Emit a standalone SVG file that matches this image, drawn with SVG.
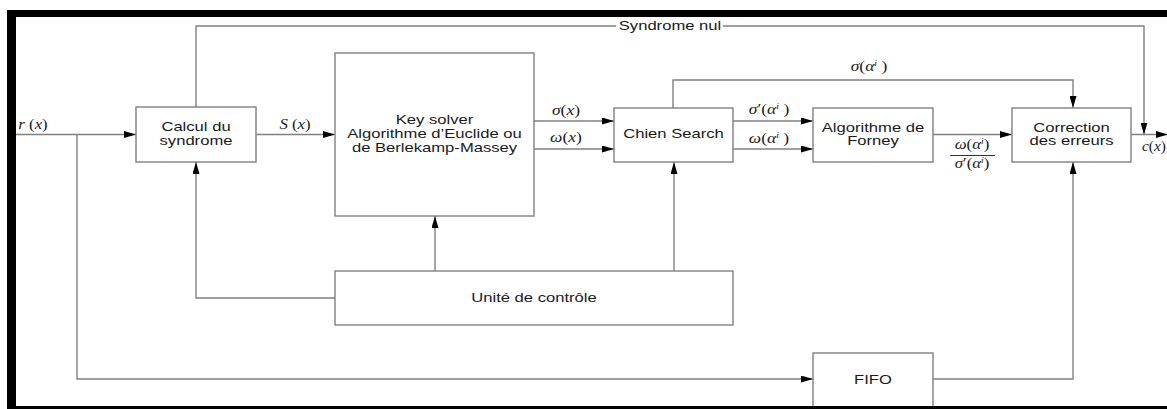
<svg xmlns="http://www.w3.org/2000/svg" width="1167" height="409" viewBox="0 0 1167 409">
<style>
.box{fill:#fff;stroke:#808080;stroke-width:1.4}
.ln{fill:none;stroke:#808080;stroke-width:1.4}
.arr{marker-end:url(#ah)}
.lbl{font-family:"Liberation Sans",Arial,sans-serif;font-size:12.5px;fill:#1a1a1a;text-anchor:middle}
.m{font-family:"Liberation Serif","Times New Roman",serif;font-size:14px;fill:#1a1a1a;text-anchor:middle}
.i{font-style:italic}
.frame{fill:#000}
</style>
<defs>
<marker id="ah" markerUnits="userSpaceOnUse" markerWidth="12" markerHeight="7" viewBox="0 0 12 7" refX="12" refY="3.5" orient="auto">
<path d="M0,0 L12,3.5 L0,7 Z" fill="#000"/>
</marker>
</defs>
<rect width="1167" height="409" fill="#fff"/>
<g id="connectors">
<path class="ln arr" d="M16,134.5 H136"/>
<path class="ln arr" d="M77,134.5 V379 H813"/>
<path class="ln arr" d="M256,134.5 H335"/>
<path class="ln arr" d="M534,121 H614"/>
<path class="ln arr" d="M534,149 H614"/>
<path class="ln arr" d="M733,121 H813"/>
<path class="ln arr" d="M733,149 H813"/>
<path class="ln arr" d="M933,134.5 H1012"/>
<path class="ln arr" d="M673,108 V80 H1073 V108"/>
<path class="ln" d="M196,107 V26 H616"/>
<path class="ln arr" d="M723,26 H1144 V134.5"/>
<path class="ln arr" d="M1131,134.5 H1168"/>
<path class="ln arr" d="M335,298 H196 V162"/>
<path class="ln arr" d="M435,271 V216"/>
<path class="ln arr" d="M674,271 V162"/>
<path class="ln arr" d="M933,379 H1073 V162"/>
<text class="lbl" transform="translate(670,30) scale(1.33,1)">Syndrome nul</text>
<text class="m" transform="translate(33,129) scale(1.2,1)"><tspan class="i">r</tspan> (<tspan class="i">x</tspan>)</text>
<text class="m" transform="translate(295,129) scale(1.2,1)"><tspan class="i">S</tspan> (<tspan class="i">x</tspan>)</text>
<text class="m" transform="translate(566,115) scale(1.25,1)"><tspan class="i">σ</tspan>(<tspan class="i">x</tspan>)</text>
<text class="m" transform="translate(566,142) scale(1.25,1)"><tspan class="i">ω</tspan>(<tspan class="i">x</tspan>)</text>
<text class="m" transform="translate(769,114) scale(1.25,1)"><tspan class="i">σ</tspan>′(<tspan class="i">α</tspan><tspan class="i" font-size="8" dy="-5">i</tspan><tspan dy="5"> )</tspan></text>
<text class="m" transform="translate(769,143) scale(1.25,1)"><tspan class="i">ω</tspan>(<tspan class="i">α</tspan><tspan class="i" font-size="8" dy="-5">i</tspan><tspan dy="5"> )</tspan></text>
<text class="m" transform="translate(869,71) scale(1.25,1)"><tspan class="i">σ</tspan>(<tspan class="i">α</tspan><tspan class="i" font-size="8" dy="-5">i</tspan><tspan dy="5"> )</tspan></text>
<text class="m" transform="translate(972,149) scale(1.2,1)"><tspan class="i">ω</tspan>(<tspan class="i">α</tspan><tspan class="i" font-size="8" dy="-5">i</tspan><tspan dy="5">)</tspan></text>
<path class="ln" d="M950,155.5 H995" style="stroke:#333;stroke-width:1"/>
<text class="m" transform="translate(972,168) scale(1.2,1)"><tspan class="i">σ</tspan>′(<tspan class="i">α</tspan><tspan class="i" font-size="8" dy="-5">i</tspan><tspan dy="5">)</tspan></text>
<text class="m" transform="translate(1154,151) scale(1.1,1)"><tspan class="i">c</tspan>(<tspan class="i">x</tspan>)</text>
</g>
<g id="calcul">
<rect class="box" x="136" y="107" width="120" height="55"/>
<text class="lbl" transform="translate(196,131) scale(1.33,1)">Calcul du</text>
<text class="lbl" transform="translate(196,144.5) scale(1.33,1)">syndrome</text>
</g>
<g id="keysolver">
<rect class="box" x="335" y="53" width="199" height="163"/>
<text class="lbl" transform="translate(434.5,124) scale(1.33,1)">Key solver</text>
<text class="lbl" transform="translate(434.5,138) scale(1.33,1)">Algorithme d’Euclide ou</text>
<text class="lbl" transform="translate(434.5,152) scale(1.33,1)">de Berlekamp-Massey</text>
</g>
<g id="chien">
<rect class="box" x="614" y="108" width="119" height="54"/>
<text class="lbl" transform="translate(673.5,138) scale(1.33,1)">Chien Search</text>
</g>
<g id="forney">
<rect class="box" x="813" y="108" width="120" height="54"/>
<text class="lbl" transform="translate(873,132) scale(1.33,1)">Algorithme de</text>
<text class="lbl" transform="translate(873,145) scale(1.33,1)">Forney</text>
</g>
<g id="correction">
<rect class="box" x="1012" y="108" width="119" height="54"/>
<text class="lbl" transform="translate(1071.5,132) scale(1.33,1)">Correction</text>
<text class="lbl" transform="translate(1071.5,145) scale(1.33,1)">des erreurs</text>
</g>
<g id="unite">
<rect class="box" x="335" y="271" width="398" height="54"/>
<text class="lbl" transform="translate(534,302) scale(1.33,1)">Unité de contrôle</text>
</g>
<g id="fifo">
<rect class="box" x="813" y="353" width="120" height="56"/>
<text class="lbl" transform="translate(873,384) scale(1.33,1)">FIFO</text>
</g>
<g id="frame">
<rect class="frame" x="7" y="10" width="1160" height="7"/>
<rect class="frame" x="7" y="10" width="9" height="399"/>
<rect class="frame" x="7" y="406" width="1160" height="3"/>
</g>
</svg>
